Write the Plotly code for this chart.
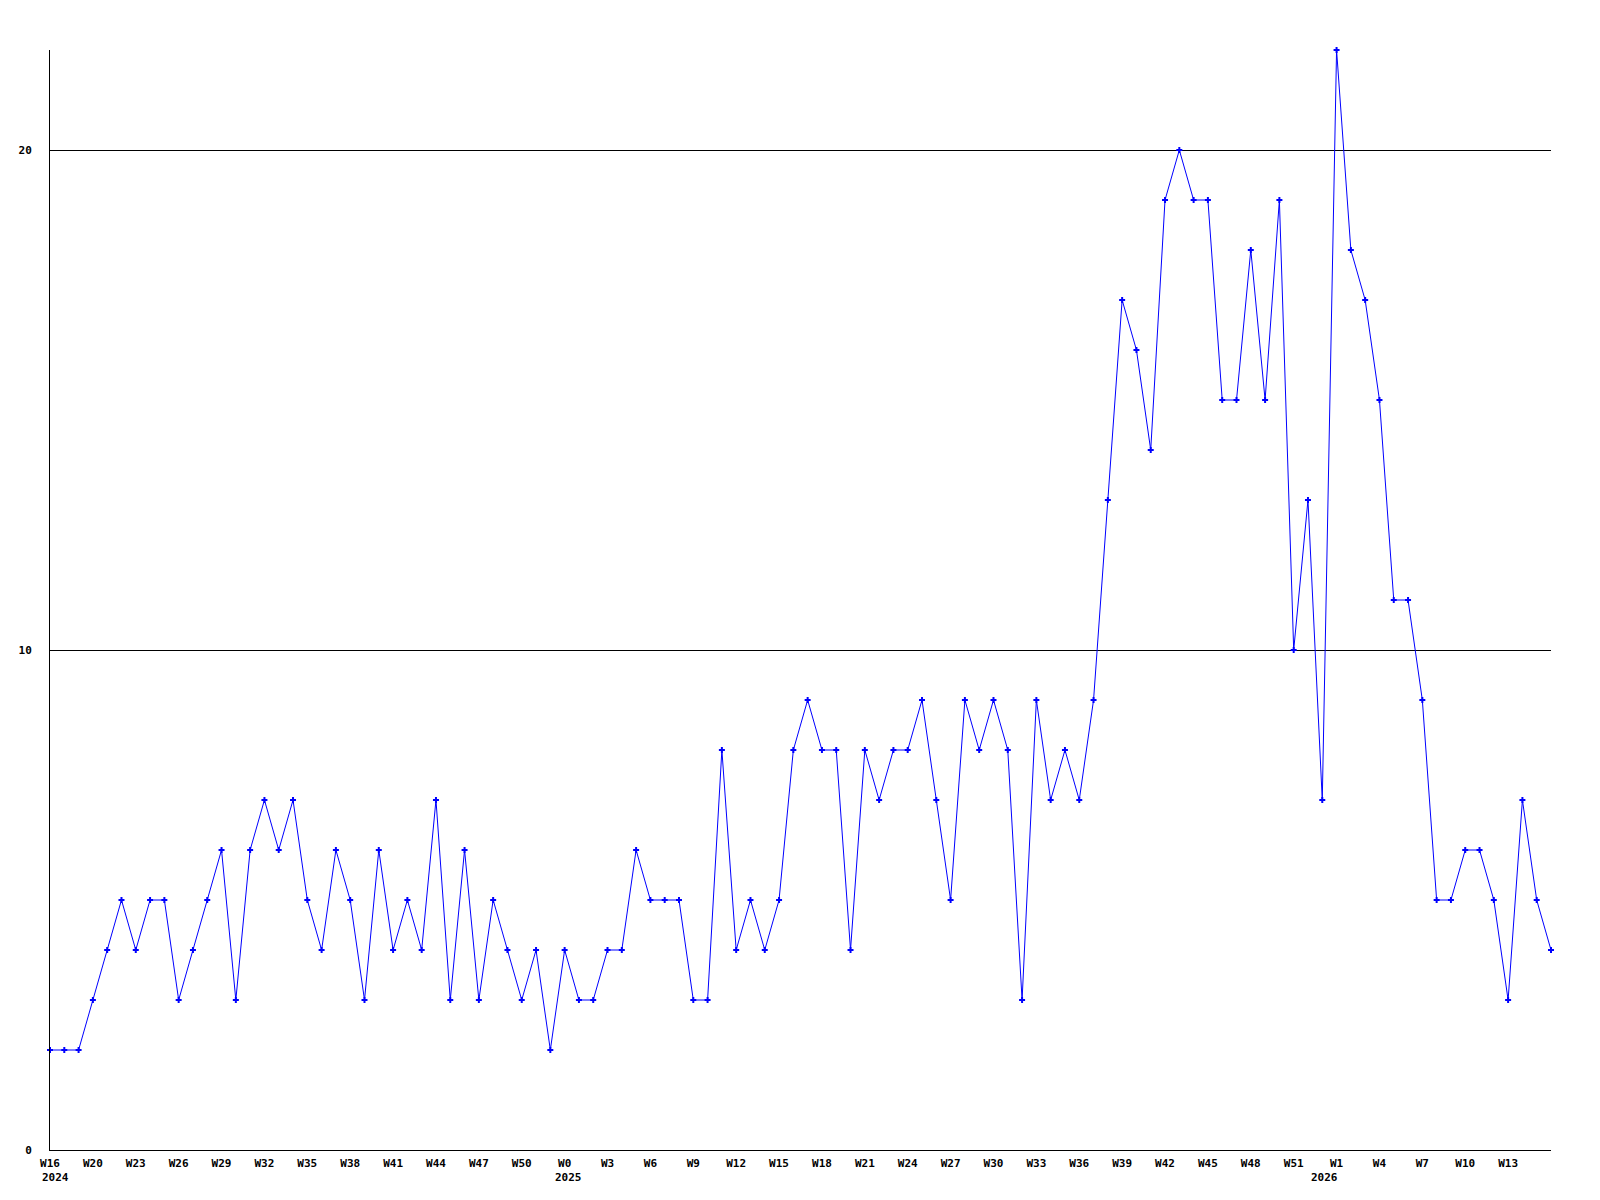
import plotly.graph_objects as go

# Weekly counts, W16 2024 .. W16 2026 (one value per week)
values = [2, 2, 2, 3, 4, 5, 4, 5, 5, 3,
          4, 5, 6, 3, 6, 7, 6, 7, 5, 4,
          6, 5, 3, 6, 4, 5, 4, 7, 3, 6,
          3, 5, 4, 3, 4, 2, 4, 3, 3, 4,
          4, 6, 5, 5, 5, 3, 3, 8, 4, 5,
          4, 5, 8, 9, 8, 8, 4, 8, 7, 8,
          8, 9, 7, 5, 9, 8, 9, 8, 3, 9,
          7, 8, 7, 9, 13, 17, 16, 14, 19, 20,
          19, 19, 15, 15, 18, 15, 19, 10, 13, 7,
          22, 18, 17, 15, 11, 11, 9, 5, 5, 6,
          6, 5, 3, 7, 5, 4]

tick_labels = ["W16", "W20", "W23", "W26", "W29", "W32", "W35", "W38",
               "W41", "W44", "W47", "W50", "W0", "W3", "W6", "W9",
               "W12", "W15", "W18", "W21", "W24", "W27", "W30", "W33",
               "W36", "W39", "W42", "W45", "W48", "W51", "W1", "W4",
               "W7", "W10", "W13"]
tick_step = 3

year_labels = ["2024", "2025", "2026"]
year_tick_index = [0, 12, 30]  # index into tick_labels

y_ticks = [0, 10, 20]

x = list(range(len(values)))
tick_positions = [i * tick_step for i in range(len(tick_labels))]

font = dict(family="DejaVu Sans Mono", size=11, color="black")

fig = go.Figure()
fig.add_trace(go.Scatter(
    x=x, y=values, mode="lines+markers",
    line=dict(color="#0000ff", width=1),
    marker=dict(symbol="cross", size=5, color="#0000ff", line=dict(width=0)),
    cliponaxis=False,
    hoverinfo="x+y",
))

# year labels under the first week tick of each year
year_shift = [(-10, "left"), (-12, "left"), (-12, "center")]
for label, ti, (dx, anchor) in zip(year_labels, year_tick_index, year_shift):
    fig.add_annotation(
        x=tick_positions[ti], y=0, xref="x", yref="paper",
        text=f"<b>{label}</b>", showarrow=False,
        xanchor=anchor, yanchor="middle", xshift=dx, yshift=-27,
        font=font,
    )

fig.update_layout(
    width=1592, height=1192,
    margin=dict(l=42, r=49, t=42, b=50),
    paper_bgcolor="white", plot_bgcolor="white",
    showlegend=False,
    font=font,
)
fig.update_xaxes(
    range=[0, len(values) - 1],
    tickmode="array", tickvals=tick_positions,
    ticktext=[f"<b>{t}</b>" for t in tick_labels],
    showgrid=False, zeroline=False,
    showline=True, linecolor="black", linewidth=1,
    ticks="", ticklabelstandoff=3, tickangle=0,
    tickfont=font,
)
fig.update_yaxes(
    range=[0, 22],
    tickmode="array", tickvals=y_ticks, ticktext=[f"<b>{v}</b>" for v in y_ticks],
    showgrid=True, gridcolor="black", gridwidth=1,
    zeroline=False,
    showline=True, linecolor="black", linewidth=1,
    ticks="", ticklabelstandoff=15,
    tickfont=font,
)

fig.write_html("out.html")
